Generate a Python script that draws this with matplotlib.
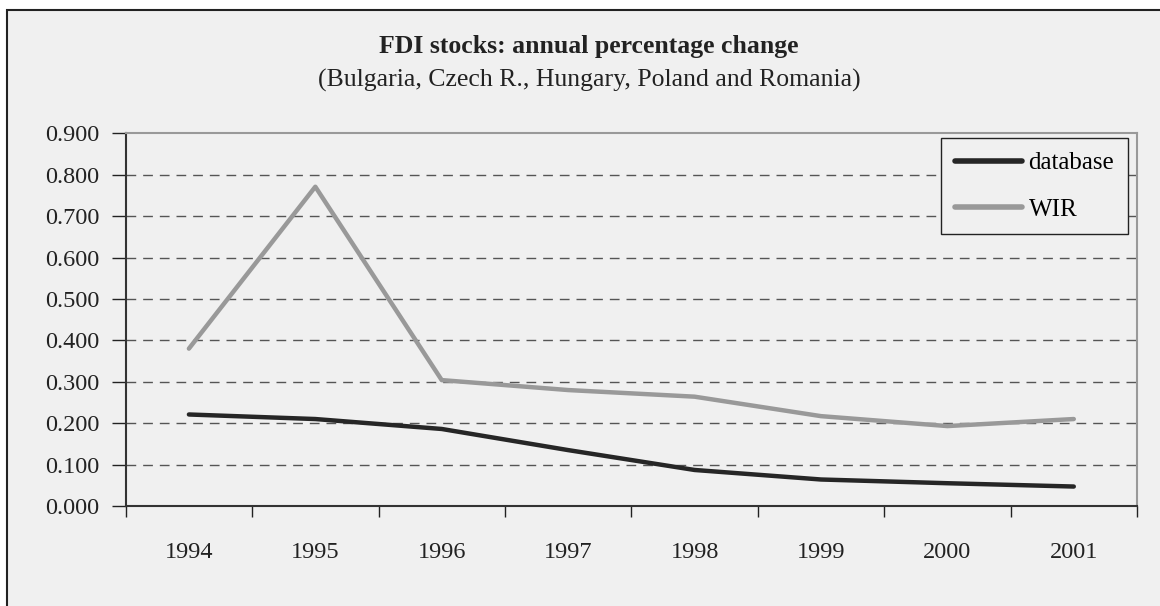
import matplotlib
matplotlib.use("Agg")
import matplotlib.pyplot as plt
from matplotlib.patches import Rectangle

# data
years = ["1994", "1995", "1996", "1997", "1998", "1999", "2000", "2001"]
database = [0.221, 0.210, 0.186, 0.135, 0.087, 0.064, 0.055, 0.047]
wir = [0.380, 0.771, 0.304, 0.280, 0.264, 0.217, 0.193, 0.210]
yticks = [0.0, 0.1, 0.2, 0.3, 0.4, 0.5, 0.6, 0.7, 0.8, 0.9]

plt.rcParams["font.family"] = ["Liberation Serif", "DejaVu Serif"]

W, H = 1160, 606
fig = plt.figure(figsize=(W / 100, H / 100), dpi=100, facecolor="white")

# chart area background with border (top/left visible, cut at right/bottom)
fig.patches.append(Rectangle((7 / W, -0.1), 1.2, 1.1 - 10 / H, transform=fig.transFigure,
                             facecolor="#f0f0f0", edgecolor="#222222", lw=1.5, zorder=-1))

ax = fig.add_axes([125.7 / W, 1 - 506 / H, (1137 - 125.7) / W, (506 - 133.3) / H])
ax.set_zorder(1)
ax.set_facecolor("#f0f0f0")

x = [i + 0.5 for i in range(len(years))]
ax.plot(x, database, color="#262626", lw=3.2, solid_capstyle="round", label="database", zorder=3)
ax.plot(x, wir, color="#999999", lw=3.2, solid_capstyle="round", label="WIR", zorder=3)

ax.set_xlim(0, len(years))
ax.set_ylim(0, 0.9)
ax.set_yticks(yticks)
ax.set_yticklabels([f"{v:.3f}" for v in yticks])
ax.set_xticks(range(len(years) + 1))
ax.set_xticklabels([])
ax.set_xticks(x, minor=True)
ax.set_xticklabels(years, minor=True)

ax.tick_params(axis="y", which="major", length=10, width=1, color="#222222",
               labelsize=17.5, pad=9, labelcolor="#222222")
ax.tick_params(axis="x", which="major", length=8, width=1, color="#222222")
ax.tick_params(axis="x", which="minor", length=0, labelsize=17.5, pad=26, labelcolor="#222222")

for y in yticks[1:-1]:
    ax.axhline(y, color="#555555", lw=1, ls=(0, (7, 5)), zorder=1)

for s in ["left", "bottom"]:
    ax.spines[s].set_color("#333333")
    ax.spines[s].set_linewidth(1.5)
for s in ["top", "right"]:
    ax.spines[s].set_color("#999999")
    ax.spines[s].set_linewidth(1.5)

leg = ax.legend(loc="upper right", bbox_to_anchor=(1128 / W, 1 - 138 / H),
                bbox_transform=fig.transFigure, fontsize=18, frameon=True, fancybox=False,
                handlelength=2.7, handletextpad=0.25, borderpad=0.55, labelspacing=0.95,
                borderaxespad=0)
leg.get_frame().set_edgecolor("#222222")
leg.get_frame().set_facecolor("#f0f0f0")
leg.get_frame().set_linewidth(1)
leg.get_frame().set_alpha(1)
for line in leg.get_lines():
    line.set_linewidth(4)

fig.text(589 / W, 1 - 46 / H, "FDI stocks: annual percentage change", ha="center", va="center",
         fontsize=18.5, fontweight="bold", color="#222222")
fig.text(589 / W, 1 - 80 / H, "(Bulgaria, Czech R., Hungary, Poland and Romania)", ha="center",
         va="center", fontsize=18.5, color="#222222")

fig.savefig("out.png", dpi=100, facecolor="white")
